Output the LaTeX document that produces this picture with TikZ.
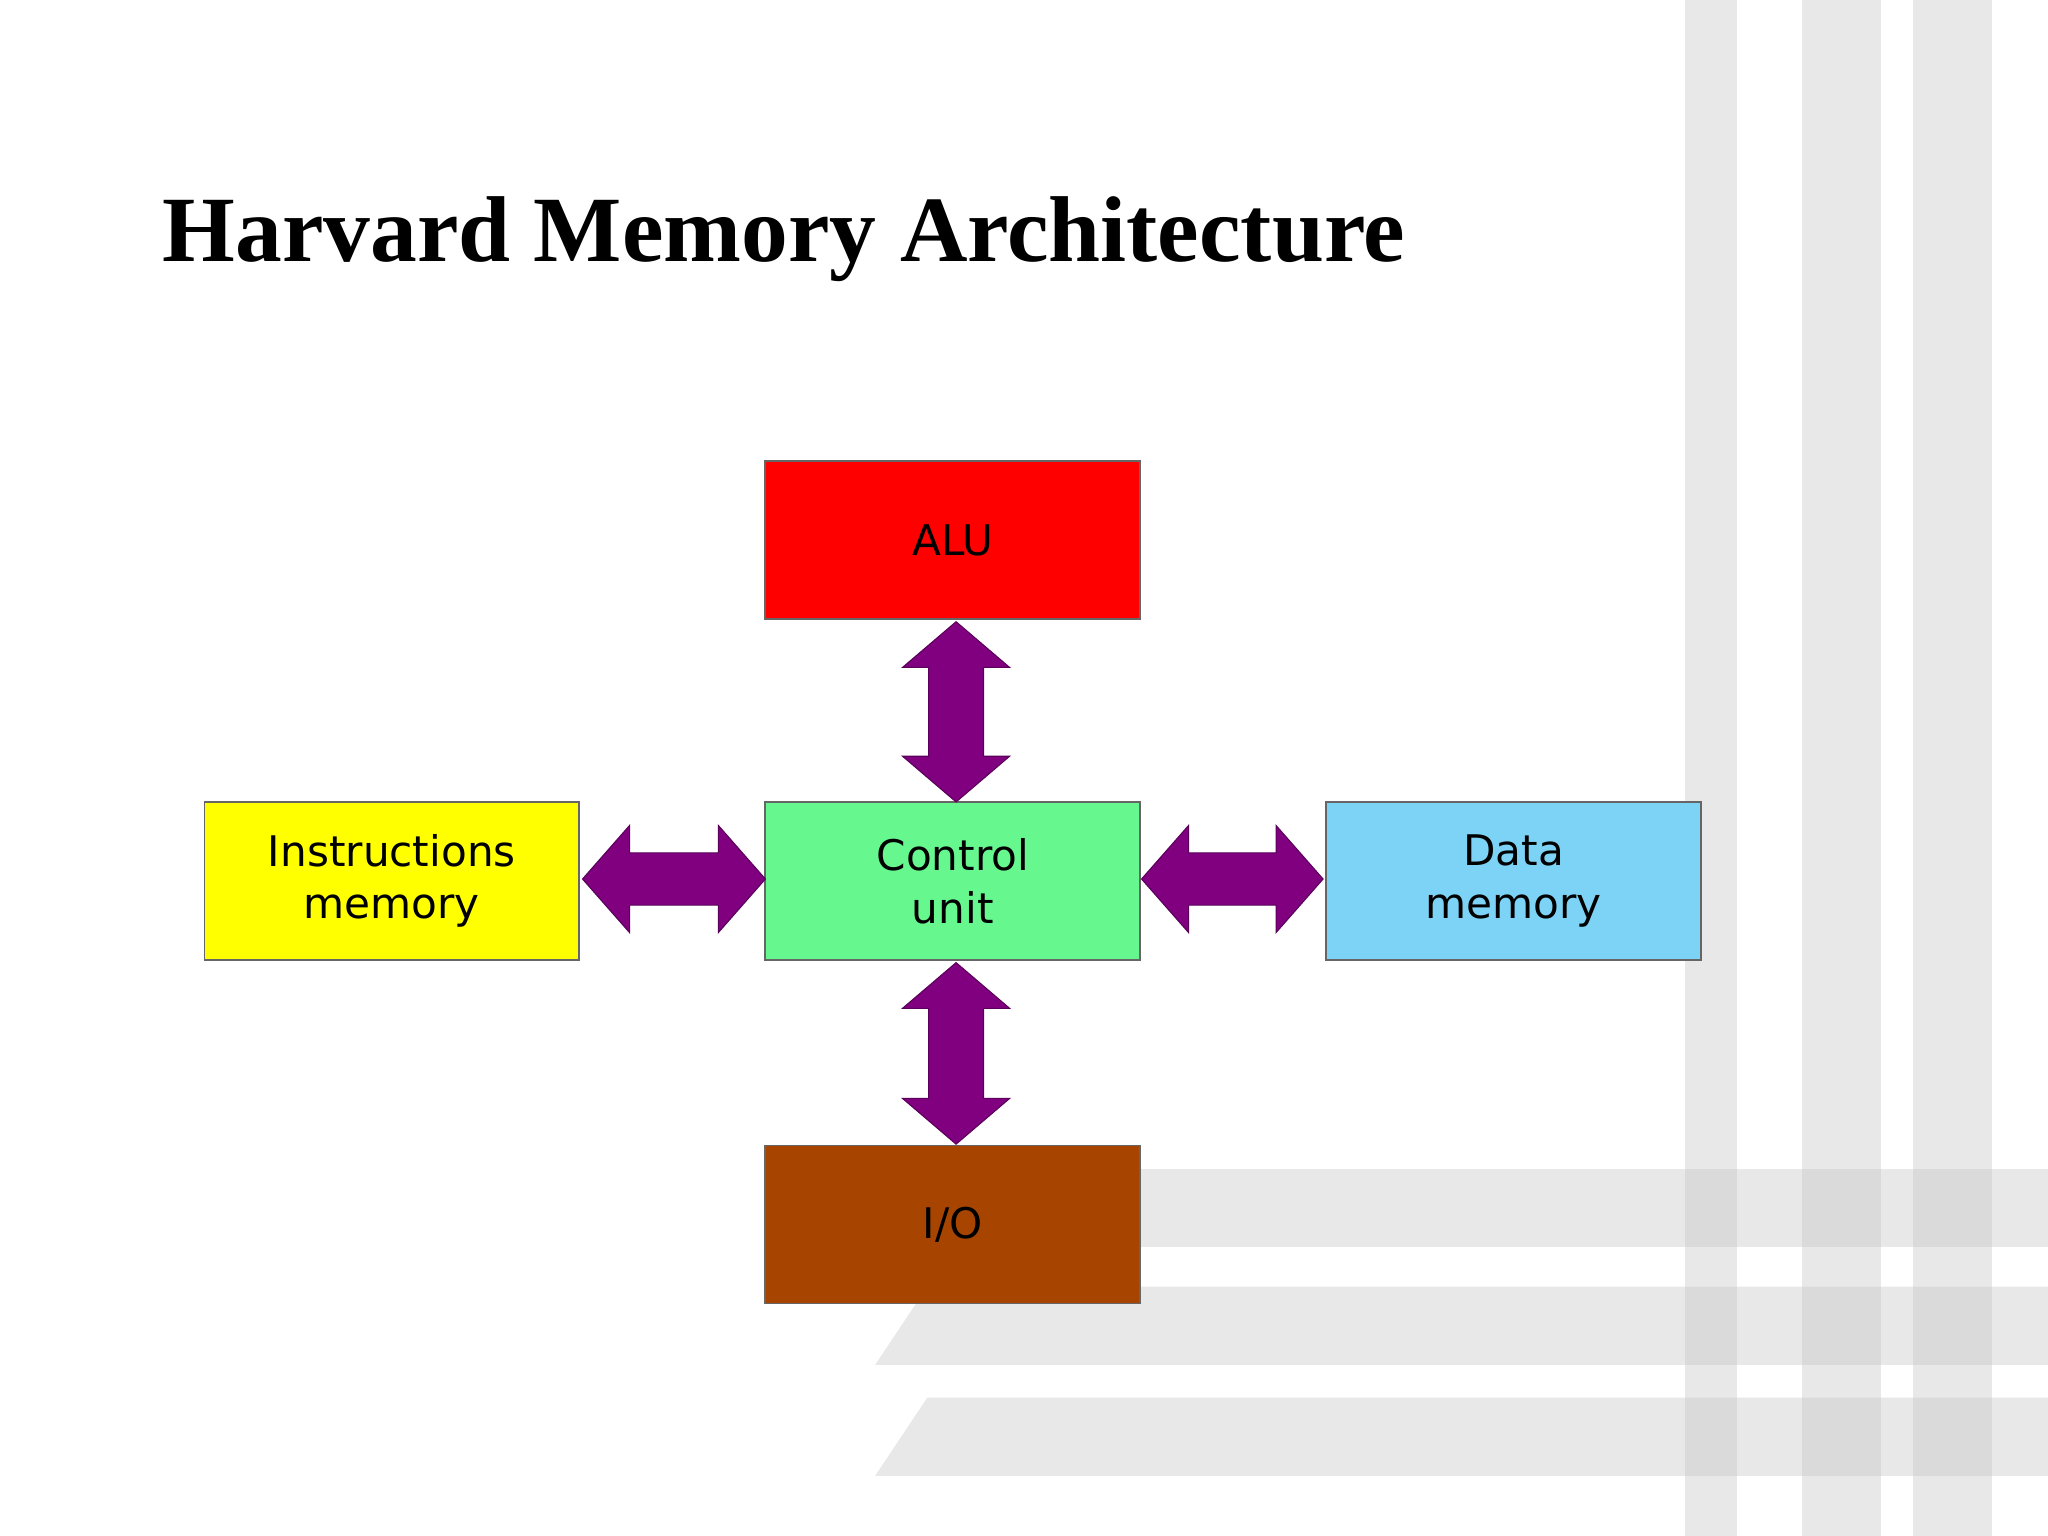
\documentclass[tikz,border=0pt]{standalone}
\usepackage{fontspec}
\setmainfont{Liberation Serif}
\newfontfamily\boxfont{DejaVu Sans}
\definecolor{arr}{HTML}{800080}
\definecolor{alu}{HTML}{FF0000}
\definecolor{ctl}{HTML}{66F88F}
\definecolor{ins}{HTML}{FFFF00}
\definecolor{dat}{HTML}{7DD3F5}
\definecolor{io}{HTML}{A64400}
\newcommand\myH[3]{% x1 x2 yc
  \fill[arr,draw=arr!70!black,line width=0.3pt] (#1,#3) -- (#1+36,#3-41) -- (#1+36,#3-20) -- (#2-36,#3-20) -- (#2-36,#3-41) -- (#2,#3) -- (#2-36,#3+41) -- (#2-36,#3+20) -- (#1+36,#3+20) -- (#1+36,#3+41) -- cycle;}
\newcommand\myV[3]{% y1 y2 xc
  \fill[arr,draw=arr!70!black,line width=0.3pt] (#3,#1) -- (#3+41,#1+35) -- (#3+21,#1+35) -- (#3+21,#2-35) -- (#3+41,#2-35) -- (#3,#2) -- (#3-41,#2-35) -- (#3-21,#2-35) -- (#3-21,#1+35) -- (#3-41,#1+35) -- cycle;}
\begin{document}
\begin{tikzpicture}[x=0.013061cm,y=-0.013061cm,
  box/.style={draw=black!60,line width=0.5pt,minimum width=3.749cm,minimum height=1.58cm,inner sep=0pt,align=center,font=\boxfont\fontsize{12}{15}\selectfont},
  band/.style={fill=black!22,opacity=0.4}]
\useasboundingbox (0,0) rectangle (1568,1176);
\fill[white] (0,0) rectangle (1568,1176);
% background stripes
\fill[band] (1290,0) rectangle (1330,1176);
\fill[band] (1380,0) rectangle (1440,1176);
\fill[band] (1465,0) rectangle (1525,1176);
\fill[band] (870,895) rectangle (1568,955);
\fill[band] (710,985) -- (1568,985) -- (1568,1045) -- (670,1045) -- cycle;
\fill[band] (710,1070) -- (1568,1070) -- (1568,1130) -- (670,1130) -- cycle;
% title
\node[anchor=base west,font=\bfseries\fontsize{26.6}{32}\selectfont,inner sep=0pt] (title) at (124,200) {Harvard Memory Architecture};
% boxes
\node[box,fill=alu] (alu) at (729.5,413.5) {ALU};
\node[box,fill=ctl] (ctl) at (729.5,674.5) {Control\\unit};
\node[box,fill=ins] (ins) at (300,674.5) {Instructions\\memory};
\node[box,fill=dat] (dat) at (1159,674.5) {Data\\memory};
\node[box,fill=io] (io) at (729.5,937.5) {I/O};
% arrows
\myV{476}{614}{732}
\myV{737}{876}{732}
\myH{446}{586}{673}
\myH{874}{1013}{673}
\end{tikzpicture}
\end{document}
